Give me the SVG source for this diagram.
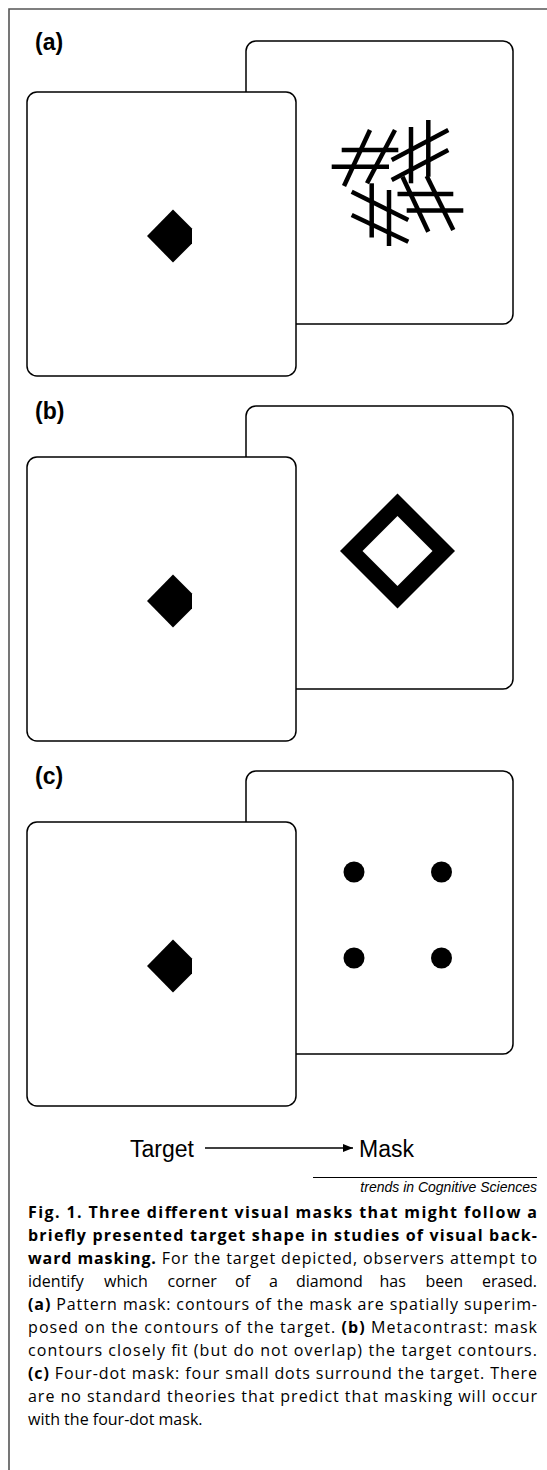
<svg xmlns="http://www.w3.org/2000/svg" width="547" height="1470" viewBox="0 0 547 1470">
<defs>
<style>
.frame{fill:none;stroke:#555;stroke-width:1.6}
.card{fill:#fff;stroke:#000;stroke-width:1.5}
.hash{stroke:#000;stroke-width:4.5;fill:none}
.ink{fill:#000;stroke:none}
.lbl{font-family:"Liberation Sans",Arial,sans-serif;font-weight:bold;font-size:23px;fill:#000}
.big{font-family:"Liberation Sans",Arial,sans-serif;font-size:23px;fill:#000}
.src{font-family:"Liberation Sans",Arial,sans-serif;font-style:italic;font-size:14px;fill:#000}
.cap{font-family:"Open Sans","Noto Sans",sans-serif;font-size:16px;fill:#000}
.b{font-weight:bold}
</style>
<marker id="ah" viewBox="0 0 10 8" refX="10" refY="4" markerWidth="10" markerHeight="8" markerUnits="userSpaceOnUse" orient="auto">
<path d="M0,0 L10,4 L0,8 Z" fill="#000"/>
</marker>
<path id="target" d="M173,209.5 L147,236 L173,262.5 L192,243.5 L192,228.5 Z"/>
</defs>
<rect width="547" height="1470" fill="#fff"/>
<path class="frame" d="M9,1470 V9 H547"/>

<g id="panel-a">
<text class="lbl" x="35" y="50">(a)</text>
<g id="a-mask">
<rect class="card" x="246" y="41" width="267" height="283" rx="10"/>
<g class="hash">
<line x1="341.7" y1="150" x2="398.3" y2="150"/>
<line x1="331.7" y1="166.7" x2="389" y2="166.7"/>
<line x1="370" y1="130" x2="344" y2="186"/>
<line x1="395" y1="130" x2="367" y2="183.3"/>
<line x1="411" y1="127" x2="411" y2="183.3"/>
<line x1="428.3" y1="120" x2="428.3" y2="176.7"/>
<line x1="391.7" y1="160" x2="448.3" y2="130"/>
<line x1="391.7" y1="180" x2="448.3" y2="150"/>
<line x1="371.7" y1="183.3" x2="371.7" y2="237.5"/>
<line x1="389" y1="190" x2="389" y2="246"/>
<line x1="351.7" y1="191.7" x2="408.3" y2="220"/>
<line x1="351.7" y1="215" x2="408.3" y2="241.7"/>
<line x1="397.5" y1="194" x2="453.3" y2="194"/>
<line x1="406.7" y1="210.5" x2="463.3" y2="210.5"/>
<line x1="402.5" y1="176.7" x2="428.3" y2="231.7"/>
<line x1="426.7" y1="176" x2="453.3" y2="230"/>
</g>
</g>
<g id="a-target">
<rect class="card" x="27" y="92" width="269" height="284" rx="10"/>
<use href="#target" class="ink"/>
</g>
</g>

<g id="panel-b" transform="translate(0,365)">
<text class="lbl" x="35" y="54">(b)</text>
<g id="b-mask">
<rect class="card" x="246" y="41" width="267" height="283" rx="10"/>
<path class="ink" fill-rule="evenodd" d="M397.5,128.5 L455,186 L397.5,243.5 L340,186 Z M397.5,151 L362.5,186 L397.5,221 L432.5,186 Z"/>
</g>
<g id="b-target">
<rect class="card" x="27" y="92" width="269" height="284" rx="10"/>
<use href="#target" class="ink"/>
</g>
</g>

<g id="panel-c" transform="translate(0,730)">
<text class="lbl" x="35" y="54">(c)</text>
<g id="c-mask">
<rect class="card" x="246" y="41" width="267" height="283" rx="10"/>
<circle class="ink" cx="354" cy="142" r="10.5"/>
<circle class="ink" cx="441.5" cy="142" r="10.5"/>
<circle class="ink" cx="354" cy="228" r="10.5"/>
<circle class="ink" cx="441.5" cy="228" r="10.5"/>
</g>
<g id="c-target">
<rect class="card" x="27" y="92" width="269" height="284" rx="10"/>
<use href="#target" class="ink"/>
</g>
</g>

<g id="node-target-label"><text class="big" x="130" y="1157">Target</text></g>
<g id="node-mask-label"><text class="big" x="359" y="1157">Mask</text></g>
<g id="connectors">
<line x1="205" y1="1148" x2="353" y2="1148" stroke="#000" stroke-width="1.3" marker-end="url(#ah)"/>
</g>

<g id="credit">
<line x1="313" y1="1177.5" x2="537" y2="1177.5" stroke="#000" stroke-width="1"/>
<text class="src" x="537" y="1192" text-anchor="end">trends in Cognitive Sciences</text>
</g>

<g id="caption" class="cap">
<text x="28" y="1218" textLength="509" lengthAdjust="spacing" class="b">Fig. 1. Three different visual masks that might follow a</text>
<text x="28" y="1241" textLength="509" lengthAdjust="spacing" class="b">briefly presented target shape in studies of visual back-</text>
<text x="28" y="1264" textLength="509" lengthAdjust="spacing"><tspan class="b">ward masking.</tspan> For the target depicted, observers attempt to</text>
<text y="1287"><tspan x="28">identify</tspan><tspan x="104">which</tspan><tspan x="167.5">corner</tspan><tspan x="235">of</tspan><tspan x="269">a</tspan><tspan x="296">diamond</tspan><tspan x="379.5">has</tspan><tspan x="425.5">been</tspan></text>
<text x="537" y="1287" text-anchor="end">erased.</text>
<text x="28" y="1310" textLength="509" lengthAdjust="spacing"><tspan class="b">(a)</tspan> Pattern mask: contours of the mask are spatially superim-</text>
<text x="28" y="1333" textLength="509" lengthAdjust="spacing">posed on the contours of the target. <tspan class="b">(b)</tspan> Metacontrast: mask</text>
<text x="28" y="1356" textLength="509" lengthAdjust="spacing">contours closely fit (but do not overlap) the target contours.</text>
<text x="28" y="1379" textLength="509" lengthAdjust="spacing"><tspan class="b">(c)</tspan> Four-dot mask: four small dots surround the target. There</text>
<text x="28" y="1402" textLength="509" lengthAdjust="spacing">are no standard theories that predict that masking will occur</text>
<text x="28" y="1425">with the four-dot mask.</text>
</g>
</svg>
